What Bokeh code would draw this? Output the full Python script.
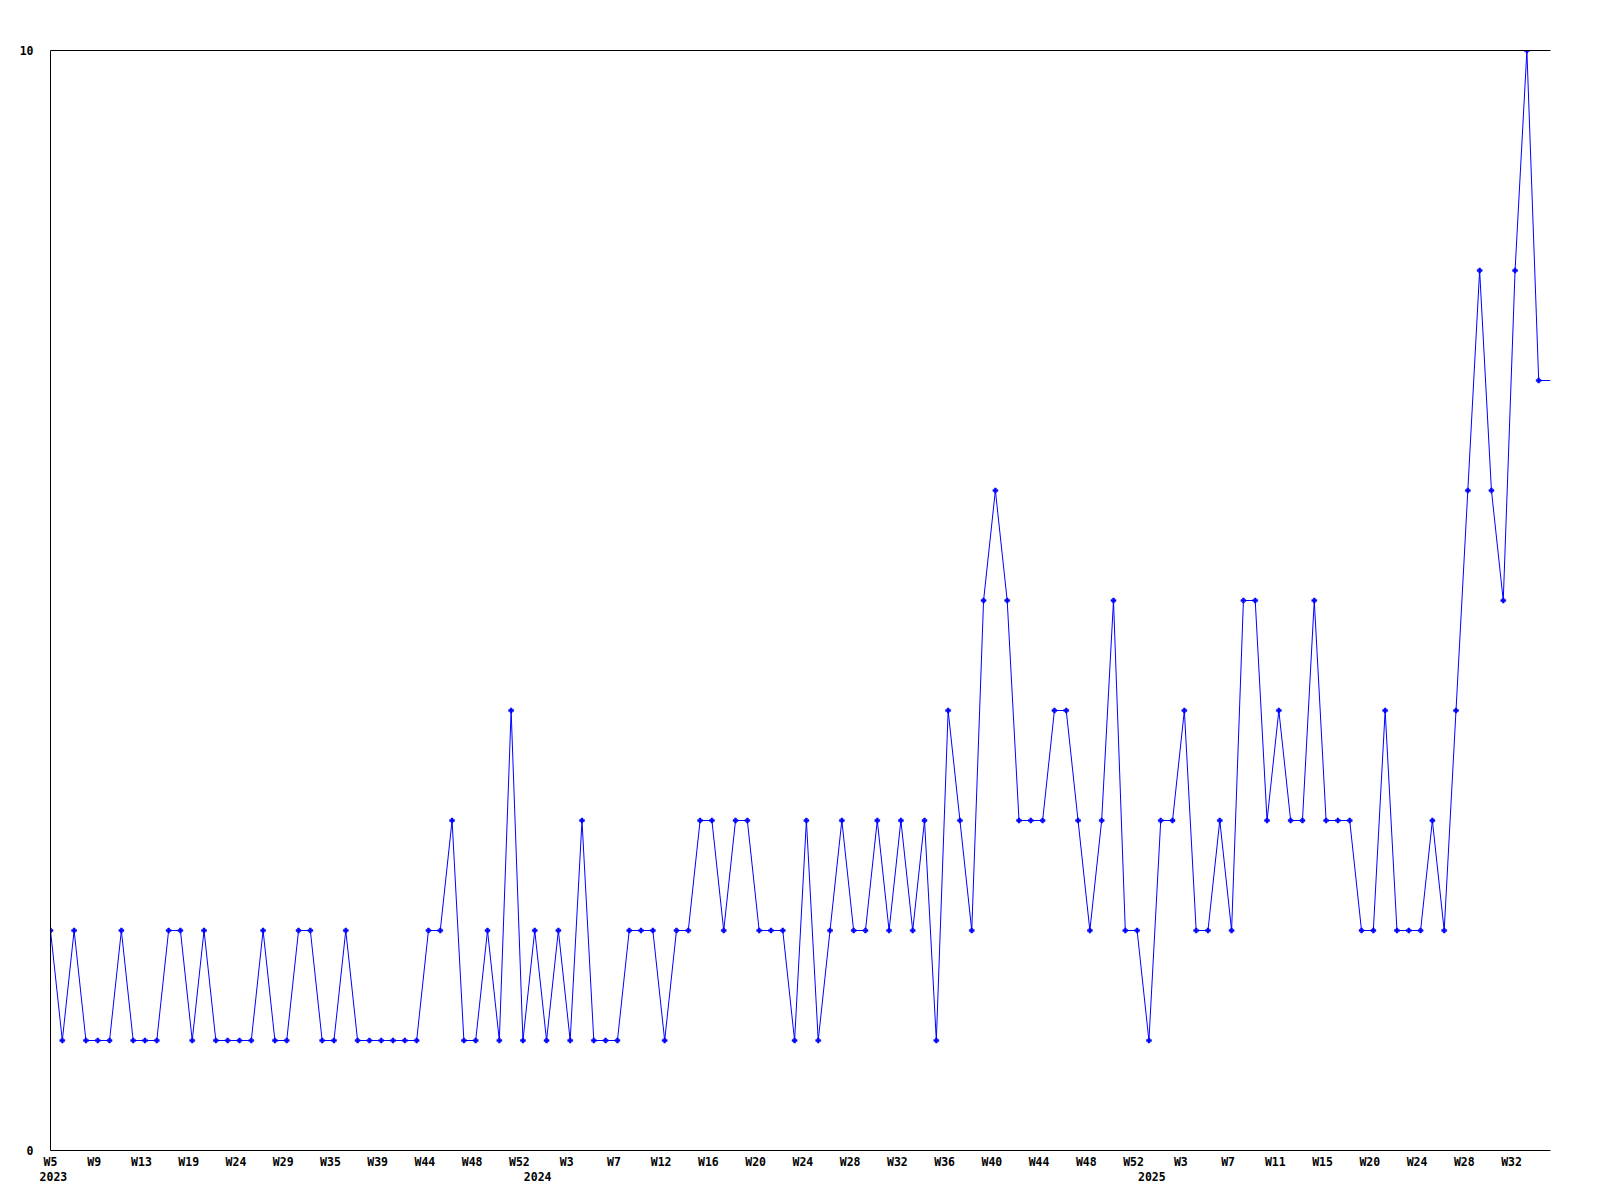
from bokeh.plotting import figure
from bokeh.models import FixedTicker, LinearAxis, Range1d
from bokeh.embed import file_html
from bokeh.resources import INLINE

# weekly counts, one value per week that has data (categorical index 0..126)
counts = [2, 1, 2, 1, 1, 1, 2, 1, 1, 1, 2, 2, 1, 2, 1, 1, 1, 1, 2, 1,
          1, 2, 2, 1, 1, 2, 1, 1, 1, 1, 1, 1, 2, 2, 3, 1, 1, 2, 1, 4,
          1, 2, 1, 2, 1, 3, 1, 1, 1, 2, 2, 2, 1, 2, 2, 3, 3, 2, 3, 3,
          2, 2, 2, 1, 3, 1, 2, 3, 2, 2, 3, 2, 3, 2, 3, 1, 4, 3, 2, 5,
          6, 5, 3, 3, 3, 4, 4, 3, 2, 3, 5, 2, 2, 1, 3, 3, 4, 2, 2, 3,
          2, 5, 5, 3, 4, 3, 3, 5, 3, 3, 3, 2, 2, 4, 2, 2, 2, 3, 2, 4,
          6, 8, 6, 5, 8, 10, 7]

# week tick labels, one every 4th data point
week_labels = ["W5", "W9", "W13", "W19", "W24", "W29", "W35", "W39", "W44", "W48", "W52",
               "W3", "W7", "W12", "W16", "W20", "W24", "W28", "W32", "W36", "W40", "W44", "W48", "W52",
               "W3", "W7", "W11", "W15", "W20", "W24", "W28", "W32"]
label_step = 4

# year labels and the index of the first week of each year
years = ["2023", "2024", "2025"]
year_start = [0, 41, 93]

y_ticks = [0, 10]

n = len(counts)
xs = list(range(n))
# line continues flat to the right edge of the chart
line_x = xs + [n]
line_y = counts + [counts[-1]]

FONT = "DejaVu Sans Mono"
FS = "11.5px"

p = figure(width=1592, height=1192, output_backend="svg", toolbar_location=None,
           x_range=Range1d(0, n), y_range=Range1d(0, 10),
           min_border_left=50, min_border_right=42, min_border_top=50, min_border_bottom=42,
           x_axis_location=None, y_axis_location=None)
p.outline_line_color = None
p.grid.visible = False
p.background_fill_color = "white"
p.border_fill_color = "white"

p.line(line_x, line_y, line_color="#0000ff", line_width=1)
p.scatter(xs, counts, marker="plus", size=5, fill_color="#0000ff", line_color="#0000ff", line_width=0.5)

def style(ax):
    ax.major_tick_in = 0
    ax.major_tick_out = 0
    ax.minor_tick_in = 0
    ax.minor_tick_out = 0
    ax.axis_line_color = "black"
    ax.axis_line_width = 1
    ax.major_label_text_font = FONT
    ax.major_label_text_font_size = FS
    ax.major_label_text_font_style = "bold"
    ax.major_label_text_color = "black"

# y axis
yax = LinearAxis(ticker=FixedTicker(ticks=y_ticks))
style(yax)
yax.major_label_standoff = 17
p.add_layout(yax, "left")

# week axis (labels sit slightly left of their data point, as in the original)
week_ticks = [i * label_step - (0.3 if i else 0) for i in range(len(week_labels))]
xax = LinearAxis(ticker=FixedTicker(ticks=week_ticks))
xax.major_label_overrides = {t: lab for t, lab in zip(week_ticks, week_labels)}
style(xax)
xax.major_label_standoff = 4
p.add_layout(xax, "below")

# year axis
year_ticks = [s + 0.25 for s in year_start]
yrax = LinearAxis(ticker=FixedTicker(ticks=year_ticks))
yrax.major_label_overrides = {t: lab for t, lab in zip(year_ticks, years)}
style(yrax)
yrax.axis_line_color = None
yrax.major_label_standoff = 0
p.add_layout(yrax, "below")

# top border line
top = LinearAxis(ticker=FixedTicker(ticks=[]))
style(top)
top.major_label_text_font_size = "0px"
top.major_label_standoff = 0
p.add_layout(top, "above")

open("out.html", "w").write(file_html(p, INLINE))
